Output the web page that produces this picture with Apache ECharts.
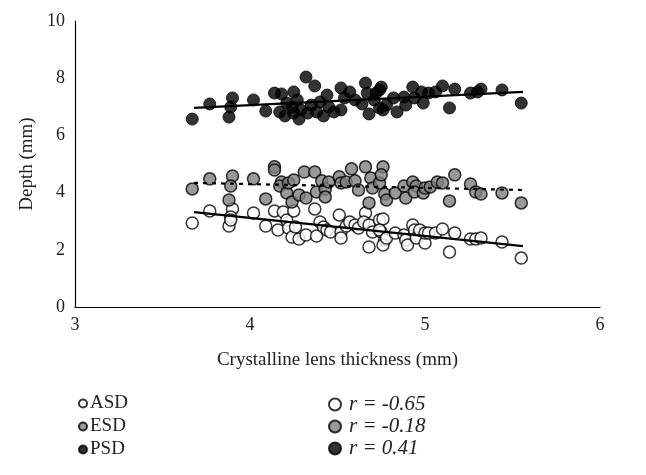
<!DOCTYPE html>
<html>
<head>
<meta charset="utf-8">
<script src="https://cdn.jsdelivr.net/npm/echarts@6/dist/echarts.min.js"></script>
<style>
html,body{margin:0;padding:0;background:#fff;}
#chart{width:646px;height:475px;}
</style>
</head>
<body>
<div id="chart"></div>
<script>
// ---- Data (lens thickness mm, depth mm) ----
const asdX = [3.67,3.77,3.88,3.90,3.89,3.89,4.02,4.09,4.14,4.16,4.19,4.21,4.22,4.24,4.25,4.26,4.28,4.32,4.37,4.38,4.40,4.42,4.44,4.46,4.51,4.52,4.52,4.55,4.57,4.60,4.62,4.66,4.65,4.68,4.68,4.70,4.74,4.75,4.76,4.74,4.77,4.76,4.78,4.83,4.88,4.89,4.90,4.93,4.94,4.95,4.97,5.00,5.00,5.02,5.06,5.10,5.17,5.14,5.26,5.29,5.32,5.44,5.55];
const asdY = [2.94,3.36,2.83,3.43,3.15,3.04,3.29,2.83,3.36,2.69,3.32,3.04,2.76,2.45,3.36,2.80,2.38,2.52,3.43,2.48,2.97,2.80,2.69,2.62,3.22,2.62,2.41,2.83,2.97,2.87,2.76,3.29,2.97,2.10,2.87,2.62,3.04,2.62,3.08,2.69,2.34,2.17,2.41,2.59,2.52,2.34,2.17,2.87,2.69,2.41,2.69,2.24,2.59,2.59,2.59,2.73,2.59,1.92,2.38,2.38,2.41,2.27,1.71];

const esdX = [3.67,3.77,3.90,3.89,3.88,4.02,4.09,4.14,4.14,4.18,4.17,4.21,4.22,4.24,4.25,4.28,4.31,4.32,4.37,4.38,4.41,4.43,4.43,4.45,4.51,4.52,4.55,4.58,4.60,4.62,4.66,4.68,4.69,4.70,4.74,4.76,4.75,4.77,4.78,4.83,4.88,4.89,4.93,4.95,4.94,4.99,5.00,5.03,5.07,5.10,5.17,5.14,5.26,5.29,5.32,5.44,5.55];
const esdY = [4.13,4.48,4.58,4.23,3.74,4.48,3.78,4.90,4.79,4.37,4.23,3.99,4.34,3.67,4.44,3.92,4.72,3.81,4.72,4.02,4.41,4.13,3.85,4.37,4.55,4.34,4.37,4.83,4.41,4.09,4.90,3.64,4.51,4.16,4.34,4.90,4.62,3.95,3.74,3.99,4.23,3.81,4.37,4.23,4.02,3.99,4.16,4.20,4.37,4.34,4.62,3.71,4.30,4.02,3.95,3.99,3.64];

const psdX = [3.67,3.77,3.88,3.90,3.89,4.02,4.09,4.14,4.18,4.17,4.21,4.25,4.24,4.25,4.28,4.32,4.37,4.33,4.38,4.40,4.44,4.45,4.52,4.52,4.54,4.57,4.60,4.66,4.68,4.67,4.71,4.74,4.74,4.75,4.72,4.76,4.78,4.82,4.89,4.88,4.93,4.94,4.98,4.99,5.02,5.06,5.10,5.14,5.17,5.26,5.30,5.32,5.44,5.55,4.29,4.35,4.42,4.27,4.20,4.48,4.64,4.84];
const psdY = [6.57,7.10,6.64,7.31,6.99,7.24,6.85,7.48,7.45,6.82,7.13,7.52,6.99,6.78,6.57,8.04,7.73,6.78,6.82,7.17,7.41,6.99,7.66,6.89,7.31,7.52,7.24,7.83,6.75,7.48,7.24,7.59,6.96,7.69,7.48,6.89,7.06,7.31,7.06,7.34,7.69,7.31,7.52,7.13,7.48,7.52,7.73,6.96,7.62,7.48,7.52,7.62,7.59,7.13,6.89,7.06,6.68,7.24,6.68,6.82,7.10,6.82];

// regression line end points
const fitX = [3.68, 5.56];
const asdFitY = [3.32, 2.13];
const esdFitY = [4.34, 4.09];
const psdFitY = [6.96, 7.52];

const seriesNames = ['ASD', 'ESD', 'PSD'];
const rLabels = ['r = -0.65', 'r = -0.18', 'r = 0.41'];
const xAxisName = 'Crystalline lens thickness (mm)';
const yAxisName = 'Depth (mm)';

const zip = (xs, ys) => xs.map((x, i) => [x, ys[i]]);
const FONT = '"Liberation Serif", "Times New Roman", serif';

const styles = [
  { color: '#ffffff', borderColor: '#000000', borderWidth: 1.5 },
  { color: '#7f7f7f', borderColor: '#000000', borderWidth: 1.5 },
  { color: '#000000', borderColor: '#000000', borderWidth: 1 }
];

const pointSets = [zip(asdX, asdY), zip(esdX, esdY), zip(psdX, psdY)];
const series = [];
seriesNames.forEach((n, i) => {
  series.push({
    name: n, type: 'scatter', symbol: 'circle', symbolSize: 12,
    itemStyle: styles[i], data: pointSets[i], z: 3
  });
});
rLabels.forEach((n, i) => {
  series.push({ name: n, type: 'scatter', symbol: 'circle', itemStyle: styles[i], data: [] });
});
[[asdFitY, 'solid'], [esdFitY, [4, 5]], [psdFitY, 'solid']].forEach(([ys, t]) => {
  series.push({
    type: 'line', data: zip(fitX, ys), symbol: 'none', z: 4,
    lineStyle: { color: '#000', width: 2.2, type: t }, silent: true
  });
});

const chart = echarts.init(document.getElementById('chart'), null, { renderer: 'canvas' });
chart.setOption({
  animation: false,
  backgroundColor: '#fff',
  textStyle: { fontFamily: FONT },
  grid: { left: 75, right: 46, top: 21, bottom: 168 },
  xAxis: {
    type: 'value', min: 3, max: 6, interval: 1,
    name: xAxisName, nameLocation: 'middle', nameGap: 44,
    nameTextStyle: { fontFamily: FONT, fontSize: 19, color: '#222' },
    axisLine: { show: true, onZero: false, lineStyle: { color: '#000', width: 1.2 } },
    axisTick: { show: false },
    splitLine: { show: false },
    axisLabel: { fontFamily: FONT, fontSize: 18, color: '#222', margin: 9 }
  },
  yAxis: {
    type: 'value', min: 0, max: 10, interval: 2,
    name: yAxisName, nameLocation: 'middle', nameGap: 32, nameRotate: 90,
    nameTextStyle: { fontFamily: FONT, fontSize: 19, color: '#222' },
    axisLine: { show: true, onZero: false, lineStyle: { color: '#000', width: 1.2 } },
    axisTick: { show: false },
    splitLine: { show: false },
    axisLabel: { fontFamily: FONT, fontSize: 18, color: '#222', margin: 10 }
  },
  legend: [
    {
      data: seriesNames, orient: 'vertical', left: 73, top: 389,
      icon: 'circle', itemWidth: 8, itemHeight: 8, itemGap: 4,
      textStyle: { fontFamily: FONT, fontSize: 19, color: '#222', padding: [0, 0, 0, -2] },
      selectedMode: false
    },
    {
      data: rLabels, orient: 'vertical', left: 323, top: 389,
      icon: 'circle', itemWidth: 12, itemHeight: 12, itemGap: 1,
      textStyle: { fontFamily: FONT, fontSize: 21, fontStyle: 'italic', color: '#222', padding: [0, 0, 0, 3] },
      selectedMode: false
    }
  ],
  series: series
});
</script>
</body>
</html>
